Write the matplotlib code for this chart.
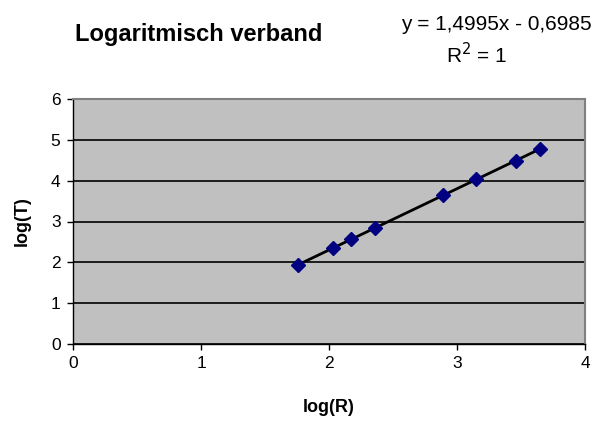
import numpy as np
import matplotlib
matplotlib.use("Agg")
import matplotlib.pyplot as plt

plt.rcParams['font.family'] = ['Liberation Sans', 'DejaVu Sans']

log_R = [1.76, 2.03, 2.17, 2.36, 2.89, 3.15, 3.46, 3.65]
log_T = [1.94, 2.35, 2.56, 2.84, 3.64, 4.03, 4.49, 4.78]
x_ticks = [0, 1, 2, 3, 4]
y_ticks = [0, 1, 2, 3, 4, 5, 6]
title = "Logaritmisch verband"
eq_text = "y = 1,4995x - 0,6985"
r2_text = "R$^2$ = 1"

W, H = 596, 421
fig = plt.figure(figsize=(W/100, H/100), dpi=100)
L, R, T, B = 73, 585, 99, 344
ax = fig.add_axes([L/W, 1-B/H, (R-L)/W, (B-T)/H])
ax.set_facecolor('#c0c0c0')

ax.set_xlim(0, 4)
ax.set_ylim(0, 6)
ax.set_xticks(x_ticks)
ax.set_yticks(y_ticks)
ax.yaxis.grid(True, color='black', linewidth=1.2)
ax.set_axisbelow(True)

for s in ['top', 'right']:
    ax.spines[s].set_color('#808080')
    ax.spines[s].set_linewidth(1.5)
for s in ['left', 'bottom']:
    ax.spines[s].set_color('black')
    ax.spines[s].set_linewidth(1.0)

ax.tick_params(axis='both', direction='out', length=4, width=1, color='black',
               labelsize=12.5, pad=5)

# trendline
coef = np.polyfit(log_R, log_T, 1)
xs = np.array([min(log_R), max(log_R)])
ax.plot(xs, np.polyval(coef, xs), color='black', linewidth=2, zorder=3)
ax.plot(log_R, log_T, linestyle='none', marker='D', markersize=7,
        color='#000080', zorder=4)

fig.text(329/W, 1-408/H, 'log(R)', fontsize=13, fontweight='bold',
         ha='center', va='center')
fig.text(22/W, 1-221/H, 'log(T)', fontsize=13, fontweight='bold',
         ha='center', va='center', rotation=90)

fig.text(75/W, 1-35/H, title, fontsize=17, fontweight='bold',
         ha='left', va='center')
fig.text(592/W, 1-25/H, eq_text, fontsize=15, ha='right', va='center')
fig.text(477/W, 1-55/H, r2_text, fontsize=15, ha='center', va='center')

fig.savefig('out.png', dpi=100)
